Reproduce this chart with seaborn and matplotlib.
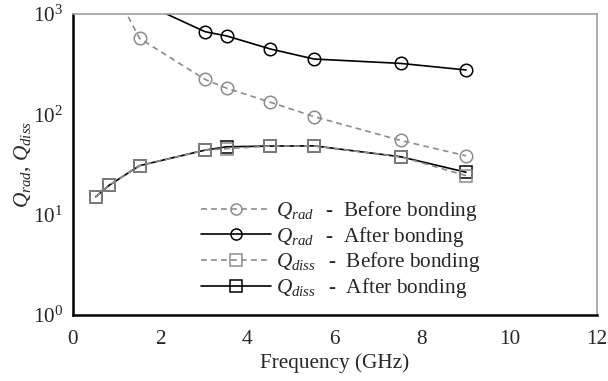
import matplotlib
matplotlib.use("Agg")
import matplotlib.pyplot as plt
import matplotlib.ticker as mticker
from matplotlib.lines import Line2D
import numpy as np
import pandas as pd
import seaborn as sns

# Measured quality factors versus frequency
freq_ghz = [0.53, 0.84, 1.53, 3.03, 3.53, 4.53, 5.53, 7.51, 9.01]
q_rad_before = [3000, 2160, 572, 223, 182, 132, 95, 55, 38.6]
q_rad_after = [2600, 2000, 1330, 667, 604, 448, 356, 322, 277]
q_diss_before = [15.1, 19.7, 30.8, 44.0, 45.5, 48.3, 48.5, 37.8, 24.5]
q_diss_after = [15.1, 19.7, 30.8, 44.0, 47.5, 48.3, 48.5, 37.8, 26.5]

x_ticks = [0, 2, 4, 6, 8, 10, 12]

sns.set_style("white")
plt.rcParams["font.family"] = ["Liberation Serif", "DejaVu Serif"]
plt.rcParams["mathtext.fontset"] = "custom"
plt.rcParams["mathtext.rm"] = "Liberation Serif"
plt.rcParams["mathtext.it"] = "Liberation Serif:italic"
plt.rcParams["mathtext.bf"] = "Liberation Serif:bold"

FS = 15.3

fig = plt.figure(figsize=(6.08, 3.81), dpi=100)
ax = fig.add_axes([0.1196, 0.1732, 0.8615, 0.7900])

gray = "#8c8c8c"
series = [
    (q_rad_before, r"$Q_{rad}\,$  -  Before bonding", gray, "o", (0, (3.5, 2.5))),
    (q_rad_after, r"$Q_{rad}\,$  -  After bonding", "black", "o", "-"),
    (q_diss_before, r"$Q_{diss}\,$  -  Before bonding", gray, "s", (0, (3.5, 2.5))),
    (q_diss_after, r"$Q_{diss}\,$  -  After bonding", "black", "s", "-"),
]

# Draw "after" curves first so grey "before" markers sit on top of them
for i in [1, 3, 0, 2]:
    vals, label, color, marker, ls = series[i]
    df = pd.DataFrame({"f": freq_ghz, "q": vals})
    sns.lineplot(data=df, x="f", y="q", ax=ax, color=color, marker=marker,
                 linestyle=ls, linewidth=1.2, markersize=9,
                 markerfacecolor="none", markeredgecolor=color,
                 markeredgewidth=1.1, label=label, legend=False)

ax.set_yscale("log")
ax.set_ylim(1, 1000)
ax.set_xlim(0, 12)
ax.set_xticks(x_ticks)
ax.yaxis.set_major_locator(mticker.LogLocator(base=10, numticks=10))
ax.yaxis.set_minor_locator(mticker.LogLocator(base=10, subs=np.arange(2, 10), numticks=20))
ax.yaxis.set_minor_formatter(mticker.NullFormatter())

ax.tick_params(axis="both", which="major", direction="in", length=8, width=1.4,
               labelsize=FS, color="black")
ax.tick_params(axis="x", which="major", pad=11)
ax.tick_params(axis="y", which="major", pad=7)
ax.tick_params(axis="y", which="minor", direction="in", length=4.5, width=1.2, color="black")
ax.tick_params(axis="x", which="minor", length=0)

for side in ["left", "bottom"]:
    ax.spines[side].set_color("black")
    ax.spines[side].set_linewidth(1.8)
for side in ["top", "right"]:
    ax.spines[side].set_color("#a0a0a0")
    ax.spines[side].set_linewidth(1.2)
ax.grid(False)

ax.set_xlabel("Frequency (GHz)", fontsize=FS, labelpad=3)
ax.set_ylabel("$Q_{rad}$, $Q_{diss}$", fontsize=FS, labelpad=0)

leg_handles = []
for vals, label, color, marker, ls in series:
    leg_handles.append(Line2D([], [], color=color, linestyle=ls, linewidth=1.2,
                              marker=marker, markersize=8, markerfacecolor="none",
                              markeredgecolor=color, markeredgewidth=1.1))
ax.legend(leg_handles, [s[1] for s in series], loc="upper left",
          bbox_to_anchor=(201 / 608, 1 - 199 / 381), bbox_transform=fig.transFigure,
          frameon=False, fontsize=FS, handlelength=3.3, handletextpad=0.25,
          labelspacing=0.08, borderpad=0, borderaxespad=0)

fig.savefig("out.png", dpi=100)
